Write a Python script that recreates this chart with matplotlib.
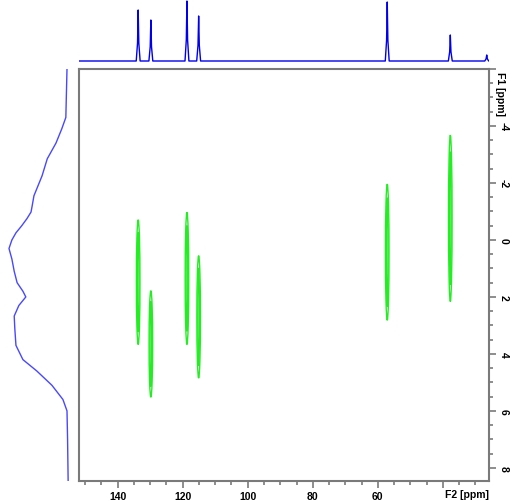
import matplotlib
matplotlib.use("Agg")
import matplotlib.pyplot as plt
from matplotlib.patches import Ellipse
from matplotlib.ticker import FixedLocator, MultipleLocator

# cross peaks: F2 shift, F1 centre, F1 half-extent (ppm)
peak_f2 = [133.7, 129.8, 118.7, 115.1, 57.1, 37.7]
peak_f1 = [1.48, 3.65, 1.35, 2.70, 0.43, -0.76]
peak_len = [2.19, 1.87, 2.32, 2.15, 2.39, 2.92]

# 1D F2 projection (top): peak shifts and heights
top_ppm = [133.7, 129.8, 118.7, 115.1, 57.1, 37.7, 26.5]
top_height = [51, 41, 60, 45, 59, 26, 6]

# F1 projection (left): sampled profile
f1_ppm = [-6.0, -4.3, -3.9, -3.4, -2.85, -2.25, -1.55, -1.2, -0.98, -0.75, -0.5, -0.25,
          0.0, 0.3, 0.67, 1.1, 1.5, 1.8, 2.0, 2.3, 2.67, 3.1, 3.7, 4.2, 4.6, 5.1,
          5.6, 6.0, 7.0, 8.5]
f1_int = [0.0, 0.02, 0.09, 0.19, 0.34, 0.43, 0.57, 0.60, 0.62, 0.69, 0.78, 0.88,
          0.95, 1.0, 0.95, 0.91, 0.86, 0.76, 0.71, 0.83, 0.91, 0.90, 0.88, 0.76, 0.52, 0.26,
          0.07, 0.0, -0.01, -0.02]

x_major = [140, 120, 100, 80, 60, 40]
x_labels = ["140", "120", "100", "80", "60", ""]
y_major = [-6, -4, -2, 0, 2, 4, 6, 8]
y_labels = ["", "-4", "-2", "0", "2", "4", "6", "8"]

xlim = (151.9, 25.8)
ylim = (8.46, -6.0)

plt.rcParams['font.family'] = ['Liberation Sans', 'DejaVu Sans']
plt.rcParams['axes.unicode_minus'] = False
fig = plt.figure(figsize=(5.12, 5.02), dpi=100)
W, H = 512, 502

def box(l, t, r, b):
    return [l / W, 1 - b / H, (r - l) / W, (b - t) / H]

spine_col = '#7a7a7a'

ax = fig.add_axes(box(79, 70, 489, 482))
for i in range(len(peak_f2)):
    for sx, sy in [(1.0, 1.0), (0.45, 0.8)]:
        ax.add_patch(Ellipse((peak_f2[i], peak_f1[i]), 1.1 * sx, 2 * peak_len[i] * sy,
                             fill=False, ec='#22ee22', lw=1.0))
ax.set_xlim(*xlim)
ax.set_ylim(*ylim)
for s in ax.spines.values():
    s.set_color(spine_col)
    s.set_linewidth(1.5)
ax.xaxis.set_major_locator(FixedLocator(x_major))
ax.set_xticklabels(x_labels, fontweight='bold')
ax.xaxis.set_minor_locator(MultipleLocator(5))
ax.yaxis.tick_right()
ax.yaxis.set_major_locator(FixedLocator(y_major))
ax.set_yticklabels(y_labels, rotation=-90, va='center', fontweight='bold')
ax.yaxis.set_minor_locator(MultipleLocator(0.5))
ax.tick_params(which='both', colors=spine_col, labelcolor='black', width=1.2,
               labelsize=7.5, pad=2)
ax.tick_params(which='major', length=5)
ax.tick_params(which='minor', length=3)
ax.text(466.7 / W, 1 - 495 / H, "F2 [ppm]", transform=fig.transFigure,
        ha='center', va='center', fontsize=7.5, fontweight='bold')
ax.text(500 / W, 1 - 94 / H, "F1 [ppm]", transform=fig.transFigure,
        ha='center', va='center', fontsize=7.5, fontweight='bold', rotation=-90)

# top projection
axt = fig.add_axes(box(79, 0, 489, 68))
xs, ys = [xlim[0]], [0]
for p, h in zip(top_ppm, top_height):
    xs += [p + 0.6, p + 0.2, p, p - 0.2, p - 0.6]
    ys += [0, h * 0.35, h, h * 0.35, 0]
xs.append(xlim[1])
ys.append(0)
axt.plot(xs, ys, color='#0000ee', lw=1.0)
axt.set_xlim(*xlim)
axt.set_ylim(-6, 62)
axt.axis('off')

# left projection
axl = fig.add_axes(box(0, 70, 75, 482))
axl.plot(f1_int, f1_ppm, color='#4848ff', lw=1.0)
axl.set_ylim(*ylim)
axl.set_xlim(1.155, -0.138)
axl.axis('off')

fig.savefig("out.png", dpi=100)
